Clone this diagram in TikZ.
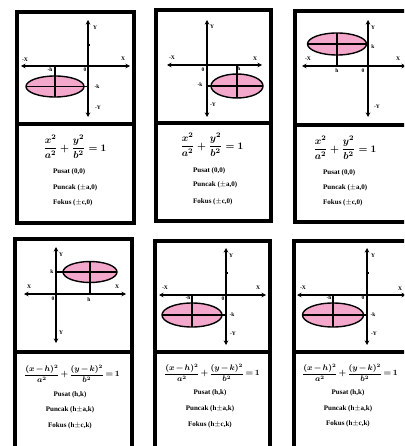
\documentclass[tikz,border=0pt]{standalone}
\usepackage{fontspec}
\setmainfont{Liberation Serif}
\usetikzlibrary{arrows.meta,shapes.geometric}
\definecolor{merahmuda}{RGB}{243,168,203}
\newcommand{\rumusdua}{$\medmuskip=2mu\relax\thickmuskip=3mu\relax\displaystyle\frac{(x-h)^2}{a^2}+\frac{(y-k)^2}{b^2}=1$}
\tikzset{
  kartu/.style  = {draw, line width=4pt},
  sekat/.style  = {line width=4pt},
  sumbu/.style  = {line width=1.4pt, {Stealth[length=4.5pt,width=4.5pt]}-{Stealth[length=4.5pt,width=4.5pt]}},
  elips/.style  = {ellipse, draw, line width=1.4pt, fill=merahmuda, inner sep=0, outer sep=0},
  garis/.style  = {line width=1.1pt},
  lbl/.style    = {font=\fontsize{5.5}{6}\selectfont\bfseries, inner sep=0.3pt},
  rumus/.style  = {font=\fontsize{10}{11}\selectfont\bfseries\boldmath, inner sep=0},
  rumusb/.style = {font=\fontsize{7.6}{9}\selectfont\bfseries\boldmath, inner sep=0},
  ket/.style    = {font=\fontsize{7}{8}\selectfont\bfseries, inner sep=0}
}
\begin{document}
\begin{tikzpicture}[x=1pt,y=-1pt]
  \clip (0,0) rectangle (404,446);
  \fill[white] (0,0) rectangle (404,446);
  % kotak 1
  \draw[kartu] (17,12) rectangle (134,223); \draw[sekat] (17,124.5)--(134,124.5);
  \coordinate (a1) at (21,66); \coordinate (b1) at (130,66); \coordinate (c1) at (88,20); \coordinate (d1) at (88,117);
  \draw[sumbu] (a1)--(b1); \draw[sumbu] (c1)--(d1); \draw[garis] (86.5,45)--(89.5,45);
  \node[elips, minimum width=58pt, minimum height=21pt] (e1) at (55,86.5) {};
  \coordinate (h1) at (55,66); \coordinate (k1) at (88,86.5);
  \draw[garis] (h1)--(e1.south); \draw[garis] (e1.west)--(k1);
  \node[lbl] (lx1) at (25,60) {-X}; \node[lbl] (rx1) at (123,59) {X}; \node[lbl] (ty1) at (95,28) {Y}; \node[lbl] (by1) at (98,108) {-Y};
  \node[lbl] (o1) at (85,70) {0}; \node[lbl] (lh1) at (50,69.5) {-h}; \node[lbl] (lk1) at (97,86.5) {-k};
  \node[rumus] (f1) at (75,147) {$\displaystyle\frac{x^2}{a^2}+\frac{y^2}{b^2}=1$};
  \node[ket,anchor=west] (s1) at (53,172) {Pusat (0,0)};
  \node[ket,anchor=west] (p1) at (53,188) {Puncak ($\pm$a,0)};
  \node[ket,anchor=west] (q1) at (53,203) {Fokus ($\pm$c,0)};
  % kotak 2
  \draw[kartu] (156,10) rectangle (271,221); \draw[sekat] (156,123.5)--(271,123.5);
  \coordinate (a2) at (167,65); \coordinate (b2) at (262,65); \coordinate (c2) at (207,20); \coordinate (d2) at (207,117);
  \draw[sumbu] (a2)--(b2); \draw[sumbu] (c2)--(d2);
  \node[elips, minimum width=52pt, minimum height=24pt] (e2) at (237,86) {};
  \coordinate (h2) at (237,65); \coordinate (k2) at (207,86);
  \draw[garis] (h2)--(e2.south); \draw[garis] (k2)--(e2.east);
  \node[lbl] (lx2) at (172,58) {-X}; \node[lbl] (rx2) at (255,59) {X}; \node[lbl] (ty2) at (212,27) {Y}; \node[lbl] (by2) at (213,105) {-Y};
  \node[lbl] (o2) at (203,70) {0}; \node[lbl] (lh2) at (239,69) {h}; \node[lbl] (lk2) at (200,85) {-k};
  \node[rumus] (f2) at (212,145) {$\displaystyle\frac{x^2}{a^2}+\frac{y^2}{b^2}=1$};
  \node[ket,anchor=west] (s2) at (193,171) {Pusat (0,0)};
  \node[ket,anchor=west] (p2) at (193,185) {Puncak ($\pm$a,0)};
  \node[ket,anchor=west] (q2) at (193,202) {Fokus ($\pm$c,0)};
  % kotak 3
  \draw[kartu] (295,11) rectangle (430,222); \draw[sekat] (295,125)--(430,125);
  \coordinate (a3) at (302,66); \coordinate (b3) at (406,66); \coordinate (c3) at (368,20); \coordinate (d3) at (368,117);
  \draw[sumbu] (a3)--(b3); \draw[sumbu] (c3)--(d3);
  \node[elips, minimum width=59pt, minimum height=22pt] (e3) at (337,44) {};
  \coordinate (h3) at (337,66); \coordinate (k3) at (368,44);
  \draw[garis] (e3.north)--(h3); \draw[garis] (e3.west)--(k3);
  \node[lbl] (lx3) at (308,59) {-X}; \node[lbl] (rx3) at (398,59) {X}; \node[lbl] (ty3) at (373,28) {Y}; \node[lbl] (by3) at (377,107) {-Y};
  \node[lbl] (o3) at (363,71) {0}; \node[lbl] (lh3) at (337,71) {h}; \node[lbl] (lk3) at (373,47) {k};
  \node[rumus] (f3) at (345,148) {$\displaystyle\frac{x^2}{a^2}+\frac{y^2}{b^2}=1$};
  \node[ket,anchor=west] (s3) at (323,173) {Pusat (0,0)};
  \node[ket,anchor=west] (p3) at (323,188) {Puncak ($\pm$a,0)};
  \node[ket,anchor=west] (q3) at (323,203) {Fokus ($\pm$c,0)};
  % kotak 4
  \draw[kartu] (15,239) rectangle (132,470); \draw[sekat] (15,352)--(132,352);
  \coordinate (a4) at (24,294); \coordinate (b4) at (126,294); \coordinate (c4) at (56,247); \coordinate (d4) at (56,343);
  \draw[sumbu] (a4)--(b4); \draw[sumbu] (c4)--(d4);
  \node[elips, minimum width=54pt, minimum height=21pt] (e4) at (90,272) {};
  \coordinate (h4) at (90,294); \coordinate (k4) at (56,272);
  \draw[garis] (e4.north)--(h4); \draw[garis] (k4)--(e4.east);
  \node[lbl] (lx4) at (29,287) {X}; \node[lbl] (rx4) at (117,287) {X}; \node[lbl] (ty4) at (61,255) {Y}; \node[lbl] (by4) at (61,333) {Y};
  \node[lbl] (o4) at (53,299) {0}; \node[lbl] (lh4) at (89,300) {h}; \node[lbl] (lk4) at (52,272) {k};
  \node[rumusb] (f4) at (72,374) {\rumusdua};
  \node[ket] (s4) at (70,395) {Pusat (h,k)};
  \node[ket] (p4) at (70,410) {Puncak (h$\pm$a,k)};
  \node[ket] (q4) at (70,426) {Fokus (h$\pm$c,k)};
  % kotak 5
  \draw[kartu] (155,241) rectangle (270,470); \draw[sekat] (155,352)--(270,352);
  \coordinate (a5) at (159,295); \coordinate (b5) at (266,295); \coordinate (c5) at (226,248); \coordinate (d5) at (226,345);
  \draw[sumbu] (a5)--(b5); \draw[sumbu] (c5)--(d5); \draw[garis] (224.5,273)--(227.5,273);
  \node[elips, minimum width=60pt, minimum height=24pt] (e5) at (192,315) {};
  \coordinate (h5) at (192,295); \coordinate (k5) at (226,315);
  \draw[garis] (h5)--(e5.south); \draw[garis] (e5.west)--(k5);
  \node[lbl] (lx5) at (165,288) {-X}; \node[lbl] (rx5) at (258,288) {X}; \node[lbl] (ty5) at (231,256) {Y}; \node[lbl] (by5) at (233,334) {-Y};
  \node[lbl] (o5) at (223,299) {0}; \node[lbl] (lh5) at (188,298) {-h}; \node[lbl] (lk5) at (232,315) {-k};
  \node[rumusb] (f5) at (212,373) {\rumusdua};
  \node[ket] (s5) at (210,393) {Pusat (h,k)};
  \node[ket] (p5) at (210,409) {Puncak (h$\pm$a,k)};
  \node[ket] (q5) at (210,425) {Fokus (h$\pm$c,k)};
  % kotak 6
  \draw[kartu] (294,241) rectangle (430,470); \draw[sekat] (294,352)--(430,352);
  \coordinate (a6) at (297,295); \coordinate (b6) at (406,295); \coordinate (c6) at (367,248); \coordinate (d6) at (367,345);
  \draw[sumbu] (a6)--(b6); \draw[sumbu] (c6)--(d6); \draw[garis] (365.5,273)--(368.5,273);
  \node[elips, minimum width=61pt, minimum height=24pt] (e6) at (333,315) {};
  \coordinate (h6) at (333,295); \coordinate (k6) at (367,315);
  \draw[garis] (h6)--(e6.south); \draw[garis] (e6.west)--(k6);
  \node[lbl] (lx6) at (303,288) {-X}; \node[lbl] (rx6) at (400,289) {X}; \node[lbl] (ty6) at (373,256) {Y}; \node[lbl] (by6) at (374,334) {-Y};
  \node[lbl] (o6) at (363,298) {0}; \node[lbl] (lh6) at (329,298) {-h}; \node[lbl] (lk6) at (373,315) {-k};
  \node[rumusb] (f6) at (350,373) {\rumusdua};
  \node[ket] (s6) at (348,393) {Pusat (h,k)};
  \node[ket] (p6) at (348,409) {Puncak (h$\pm$a,k)};
  \node[ket] (q6) at (348,424) {Fokus (h$\pm$c,k)};
\end{tikzpicture}
\end{document}
